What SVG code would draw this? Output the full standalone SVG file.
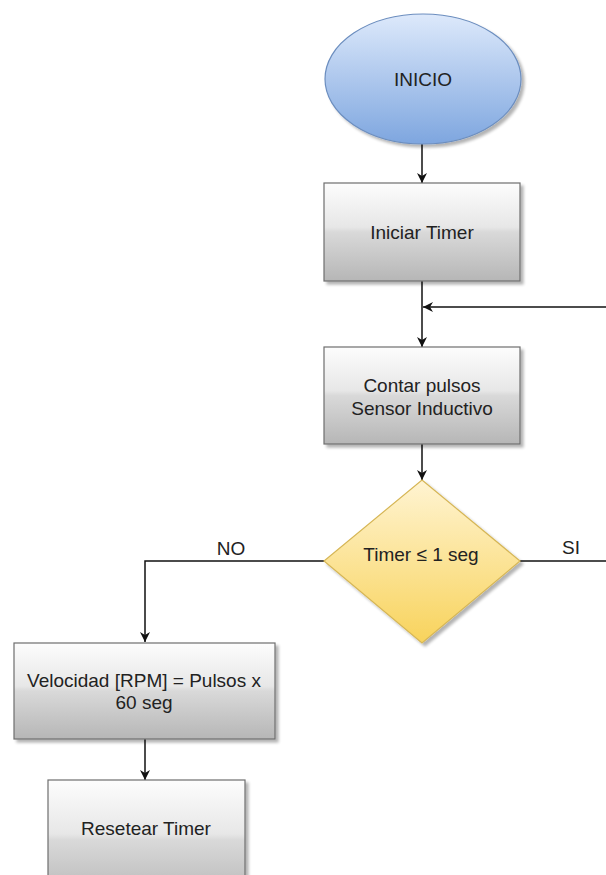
<svg xmlns="http://www.w3.org/2000/svg" width="606" height="875" viewBox="0 0 606 875">
  <defs>
    <linearGradient id="gRect" x1="0" y1="0" x2="0" y2="1">
      <stop offset="0" stop-color="#fdfdfd"/>
      <stop offset="0.45" stop-color="#e7e7e7"/>
      <stop offset="0.5" stop-color="#d9d9d9"/>
      <stop offset="1" stop-color="#b6b6b6"/>
    </linearGradient>
    <linearGradient id="gEll" x1="0" y1="0" x2="0" y2="1">
      <stop offset="0" stop-color="#dde9fb"/>
      <stop offset="1" stop-color="#7ea6df"/>
    </linearGradient>
    <linearGradient id="gDia" x1="0" y1="0" x2="0" y2="1">
      <stop offset="0" stop-color="#fff4d2"/>
      <stop offset="1" stop-color="#f8d35c"/>
    </linearGradient>
    <filter id="shadow" x="-10%" y="-10%" width="130%" height="130%">
      <feGaussianBlur in="SourceAlpha" stdDeviation="1.5"/>
      <feOffset dx="3" dy="3" result="b"/>
      <feComponentTransfer><feFuncA type="linear" slope="0.3"/></feComponentTransfer>
      <feMerge><feMergeNode/><feMergeNode in="SourceGraphic"/></feMerge>
    </filter>
    <marker id="arrow" markerUnits="userSpaceOnUse" markerWidth="12" markerHeight="12" viewBox="0 0 12 12" refX="11" refY="6" orient="auto">
      <path d="M1,1 L11,6 L1,11 L4,6 z" fill="#111"/>
    </marker>
  </defs>
  <style>
    .box { fill: url(#gRect); stroke: #6e6e6e; stroke-width: 1.2; filter: url(#shadow); }
    .lbl { font-family: "Liberation Sans", Arial, sans-serif; font-size: 19px; fill: #222; text-anchor: middle; }
    .conn { fill: none; stroke: #111; stroke-width: 1.5; }
  </style>

  <g id="connectors">
    <path class="conn" d="M422,144 L422,183" marker-end="url(#arrow)"/>
    <path class="conn" d="M422,281 L422,347" marker-end="url(#arrow)"/>
    <path class="conn" d="M606,307 L423,307" marker-end="url(#arrow)"/>
    <path class="conn" d="M422,444 L422,480" marker-end="url(#arrow)"/>
    <path class="conn" d="M324,561 L145,561 L145,642" marker-end="url(#arrow)"/>
    <path class="conn" d="M520,561 L606,561"/>
    <path class="conn" d="M145,739 L145,780" marker-end="url(#arrow)"/>
    <text class="lbl" x="231" y="555">NO</text>
    <text class="lbl" x="571" y="554">SI</text>
  </g>

  <g id="inicio">
    <ellipse cx="423" cy="79" rx="98" ry="65" fill="url(#gEll)" stroke="#6c8ebf" stroke-width="1.2" filter="url(#shadow)"/>
    <text class="lbl" x="423" y="86">INICIO</text>
  </g>

  <g id="iniciar-timer">
    <rect class="box" x="324" y="183" width="196" height="98"/>
    <text class="lbl" x="422" y="239">Iniciar Timer</text>
  </g>

  <g id="contar-pulsos">
    <rect class="box" x="324" y="347" width="196" height="97"/>
    <text class="lbl" x="422" y="392">Contar pulsos</text>
    <text class="lbl" x="422" y="415">Sensor Inductivo</text>
  </g>

  <g id="decision">
    <polygon points="422,480 520,561 422,643 324,561" fill="url(#gDia)" stroke="#d6b656" stroke-width="1.2" filter="url(#shadow)"/>
    <text class="lbl" x="421" y="561">Timer ≤ 1 seg</text>
  </g>

  <g id="velocidad">
    <rect class="box" x="14" y="643" width="261" height="96"/>
    <text class="lbl" x="144" y="687">Velocidad [RPM] = Pulsos x</text>
    <text class="lbl" x="144" y="709">60 seg</text>
  </g>

  <g id="resetear-timer">
    <rect class="box" x="48" y="780" width="197" height="120"/>
    <text class="lbl" x="146" y="835">Resetear Timer</text>
  </g>
</svg>
